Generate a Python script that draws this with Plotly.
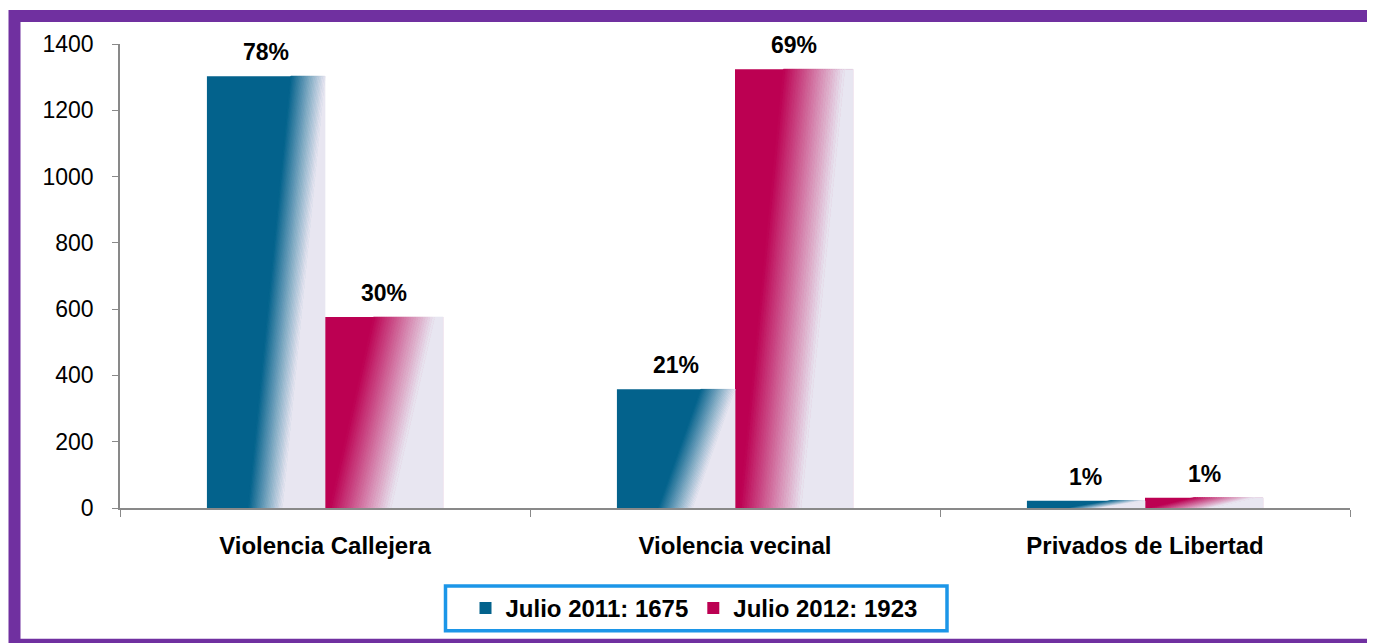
import plotly.graph_objects as go

categories = ["Violencia Callejera", "Violencia vecinal", "Privados de Libertad"]
series_names = ["Julio 2011: 1675", "Julio 2012: 1923"]
values_2011 = [1303, 358, 22]
values_2012 = [576, 1324, 31]
labels_2011 = ["78%", "21%", "1%"]
labels_2012 = ["30%", "69%", "1%"]
y_ticks = [0, 200, 400, 600, 800, 1000, 1200, 1400]

DARK = [(3, 98, 140), (188, 0, 82)]
LIGHT = (232, 230, 241)
# gradient params per series: slant k, fade start, fade end
GRAD = [(0.36, 0.35, 0.64), (0.37, 0.04, 0.56)]
BAR_W = 0.288
OFFS = [-BAR_W, 0.0]
FONT = "Liberation Sans, Arial, sans-serif"

# page offset of the plot div (browser body margin)
SH = 8


def clip(poly, k, lo, keep_above):
    out = []
    n = len(poly)
    def f(p):
        t = p[0] - k * p[1]
        return (t - lo) if keep_above else (lo - t)
    for i in range(n):
        a = poly[i]
        b = poly[(i + 1) % n]
        fa, fb = f(a), f(b)
        if fa >= 0:
            out.append(a)
        if (fa >= 0) != (fb >= 0):
            r = fa / (fa - fb)
            out.append((a[0] + r * (b[0] - a[0]), a[1] + r * (b[1] - a[1])))
    return out


def band(k, lo, hi):
    box = [(0, 0), (1, 0), (1, 1), (0, 1)]
    p = clip(box, k, lo, True)
    if hi is not None and p:
        p = clip(p, k, hi, False)
    return p


def mix(c1, c2, t):
    return "rgb(%d,%d,%d)" % tuple(round(c1[j] + (c2[j] - c1[j]) * t) for j in range(3))


fig = go.Figure()

all_vals = [values_2011, values_2012]
all_labels = [labels_2011, labels_2012]

for s in range(2):
    fig.add_trace(go.Bar(
        x=categories, y=all_vals[s], name=series_names[s],
        width=BAR_W, offset=OFFS[s],
        marker=dict(color=mix(DARK[s], DARK[s], 0), line=dict(width=0)),
    ))

NSTRIP = 26
for s in range(2):
    k, lo, hi = GRAD[s]
    for j in range(NSTRIP + 1):
        if j < NSTRIP:
            a = lo + (hi - lo) * j / NSTRIP
            b = lo + (hi - lo) * (j + 1) / NSTRIP
            col = mix(DARK[s], LIGHT, (j + 0.5) / NSTRIP)
        else:
            a, b = hi, None
            col = mix(LIGHT, LIGHT, 0)
        poly = band(k, a, b)
        if not poly:
            continue
        xs, ys = [], []
        for i, v in enumerate(all_vals[s]):
            for (u, vv) in poly:
                xs.append(i + OFFS[s] + u * BAR_W)
                ys.append(vv * v)
            xs.append(i + OFFS[s] + poly[0][0] * BAR_W)
            ys.append(poly[0][1] * v)
            xs.append(None)
            ys.append(None)
        fig.add_trace(go.Scatter(
            x=xs, y=ys, xaxis="x2", yaxis="y", mode="lines",
            fill="toself", fillcolor=col, line=dict(color=col, width=0.7),
            hoverinfo="skip", showlegend=False,
        ))

annotations = []
for s in range(2):
    for i, v in enumerate(all_vals[s]):
        annotations.append(dict(
            x=i + OFFS[s] + BAR_W / 2, y=v, xref="x2", yref="y",
            text=all_labels[s][i], showarrow=False, yanchor="bottom",
            yshift=9, font=dict(family=FONT, size=23, color="black", weight="bold"),
        ))

# screen-space layout (page pixels) converted to figure pixels
L, R, T, B = 120 - SH, 1350 - SH, 43.5 - SH, 508 - SH
PW, PH = R - L, B - T


def px(xs):
    return (xs - SH - L) / PW


def py(ys):
    return (B - (ys - SH)) / PH


shapes = [
    dict(
        type="rect", xref="paper", yref="paper",
        x0=px(14.5), x1=px(1386), y0=py(645), y1=py(15.5),
        line=dict(color="#7030A0", width=12), fillcolor="rgba(0,0,0,0)", layer="below",
    ),
    dict(
        type="rect", xref="paper", yref="paper",
        x0=px(445.5), x1=px(947), y0=py(631), y1=py(586),
        line=dict(color="#1C96E8", width=3.5), fillcolor="rgba(0,0,0,0)", layer="above",
    ),
]

fig.update_layout(
    width=1375, height=643,
    margin=dict(l=L, r=1375 - R, t=T, b=643 - B),
    paper_bgcolor="white", plot_bgcolor="white",
    barmode="overlay",
    font=dict(family=FONT, color="black"),
    xaxis=dict(
        type="category", categoryorder="array", categoryarray=categories,
        range=[-0.5, 2.5], tickson="boundaries", ticks="outside", ticklen=7,
        tickcolor="#898989", tickwidth=1.3,
        showline=True, linecolor="#898989", linewidth=1.5, showgrid=False,
        tickfont=dict(family=FONT, size=24, color="black", weight="bold"),
        ticklabelstandoff=15, fixedrange=True,
    ),
    xaxis2=dict(overlaying="x", range=[-0.5, 2.5], visible=False, fixedrange=True),
    yaxis=dict(
        range=[0, 1400], tickvals=y_ticks, ticks="outside", ticklen=6,
        tickcolor="#898989", tickwidth=1.3,
        showline=True, linecolor="#898989", linewidth=1.5, showgrid=False,
        zeroline=False, tickfont=dict(family=FONT, size=23, color="black"),
        ticklabelstandoff=14, fixedrange=True,
    ),
    legend=dict(
        orientation="h", x=px(694), xanchor="center", y=py(586), yanchor="top",
        borderwidth=0, bgcolor="rgba(0,0,0,0)",
        font=dict(family=FONT, size=24, color="black", weight="bold"),
        itemwidth=30, traceorder="normal",
    ),
    annotations=annotations,
    shapes=shapes,
    showlegend=True,
)

fig.write_html("out.html")
